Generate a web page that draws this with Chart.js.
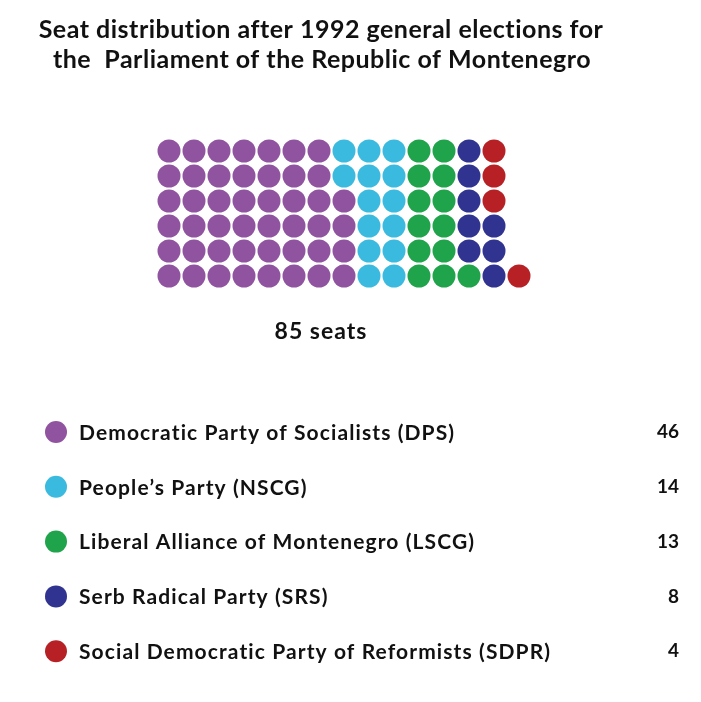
<!DOCTYPE html>
<html>
<head>
<meta charset="utf-8">
<script src="https://cdn.jsdelivr.net/npm/chart.js@4"></script>
<style>
  html, body { margin: 0; padding: 0; background: #fff; }
  #wrap { width: 701px; height: 702px; }
</style>
</head>
<body>
<div id="wrap"><canvas id="seats"></canvas></div>
<script>
const parties = [
  "Democratic Party of Socialists (DPS)",
  "People\u2019s Party (NSCG)",
  "Liberal Alliance of Montenegro (LSCG)",
  "Serb Radical Party (SRS)",
  "Social Democratic Party of Reformists (SDPR)",
];
const seats = [46, 14, 13, 8, 4];
const colors = ["#9053a0", "#3bbae0", "#1fa34b", "#30338f", "#b72126"];
const rows = 6;

const FONT = "Lato, 'DejaVu Sans', sans-serif";

// seats fill column by column, from the bottom row upwards
const datasets = [];
let k = 0;
parties.forEach((name, i) => {
  const pts = [];
  for (let s = 0; s < seats[i]; s++, k++) {
    const col = Math.floor(k / rows);
    const row = rows - 1 - (k % rows);
    pts.push({ x: col, y: row });
  }
  datasets.push({
    label: name,
    data: pts,
    backgroundColor: colors[i],
    borderWidth: 0,
    pointRadius: 11.5,
    pointHoverRadius: 11.5,
  });
});

const total = seats.reduce((a, b) => a + b, 0);

const textPlugin = {
  id: "texts",
  afterDraw(chart) {
    const ctx = chart.ctx;
    ctx.save();
    ctx.fillStyle = "#111";
    ctx.textBaseline = "middle";

    ctx.font = "bold 25px " + FONT;
    ctx.letterSpacing = "0.5px";
    ctx.textAlign = "center";
    ctx.fillText("Seat distribution after 1992 general elections for", 321, 30);
    ctx.fillText("the  Parliament of the Republic of Montenegro", 322, 60);

    ctx.font = "bold 23px " + FONT;
    ctx.letterSpacing = "1px";
    ctx.fillText(total + " seats", 321, 332);

    ctx.font = "bold 21px " + FONT;
    ctx.letterSpacing = "1.1px";
    parties.forEach((name, i) => {
      const y = 432 + i * 54.8;
      ctx.fillStyle = colors[i];
      ctx.beginPath();
      ctx.arc(56, y, 11, 0, Math.PI * 2);
      ctx.fill();
      ctx.fillStyle = "#111";
      ctx.textAlign = "left";
      ctx.fillText(name, 79, y + 1);
    });
    ctx.letterSpacing = "0px";
    ctx.font = "bold 19px " + FONT;
    ctx.textAlign = "right";
    parties.forEach((name, i) => {
      ctx.fillText(String(seats[i]), 679, 432 + i * 54.8);
    });
    ctx.restore();
  },
};

new Chart(document.getElementById("seats"), {
  type: "scatter",
  data: { datasets: datasets },
  options: {
    responsive: true,
    maintainAspectRatio: false,
    animation: false,
    layout: { padding: 0, autoPadding: false },
    scales: {
      x: { display: false, min: -6.76, max: 21.28 },
      y: { display: false, min: -6.04, max: 22.04, reverse: true },
    },
    plugins: {
      legend: { display: false },
      title: { display: false },
      tooltip: { enabled: false },
    },
  },
  plugins: [textPlugin],
});
</script>
</body>
</html>
